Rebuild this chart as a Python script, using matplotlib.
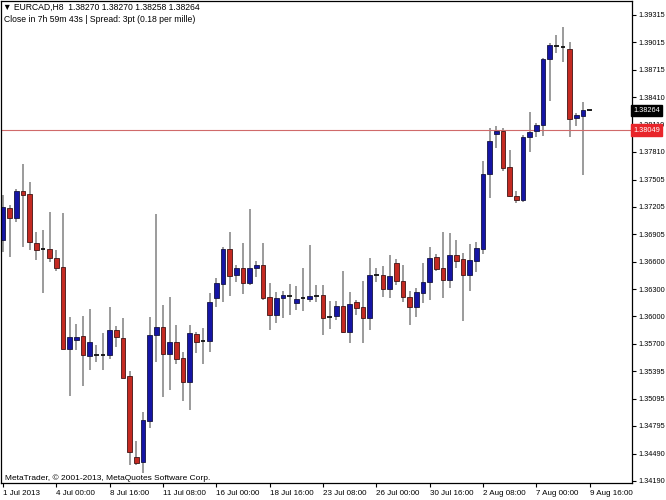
import matplotlib
matplotlib.use('Agg')
import matplotlib.pyplot as plt
import numpy as np

# EURCAD H8 candles
opens = [1.36840, 1.37189, 1.37085, 1.37376, 1.37346, 1.36810, 1.36740, 1.36741, 1.36645, 1.36546,
         1.35641, 1.35743, 1.35787, 1.35567, 1.35577, 1.35577, 1.35575, 1.35850, 1.35765, 1.35344,
         1.34450, 1.34395, 1.34852, 1.35795, 1.35880, 1.35586, 1.35721, 1.35539, 1.35281, 1.35806,
         1.35731, 1.35732, 1.36199, 1.36353, 1.36738, 1.36455, 1.36529, 1.36364, 1.36535, 1.36565,
         1.36210, 1.36018, 1.36199, 1.36226, 1.36150, 1.36201, 1.36188, 1.36226, 1.36235, 1.35995,
         1.36004, 1.36114, 1.35828, 1.36155, 1.36106, 1.35985, 1.36454, 1.36455, 1.36298, 1.36590,
         1.36389, 1.36217, 1.36100, 1.36260, 1.36375, 1.36650, 1.36529, 1.36400, 1.36675, 1.36628,
         1.36455, 1.36612, 1.36741, 1.37563, 1.38003, 1.38039, 1.37646, 1.37327, 1.37280, 1.37970,
         1.38039, 1.38105, 1.38828, 1.38980, 1.38962, 1.38941, 1.38179, 1.38204, 1.38270]
highs = [1.37335, 1.37225, 1.37401, 1.37676, 1.37481, 1.36931, 1.36950, 1.37151, 1.36730, 1.37134,
         1.35996, 1.35913, 1.36007, 1.36078, 1.35685, 1.35814, 1.36100, 1.35897, 1.35985, 1.35399,
         1.34632, 1.34945, 1.35990, 1.37126, 1.36125, 1.36210, 1.35905, 1.35611, 1.35905, 1.35831,
         1.35869, 1.36254, 1.36419, 1.36766, 1.36931, 1.36565, 1.36804, 1.37178, 1.36609, 1.36810,
         1.36364, 1.36271, 1.36279, 1.36356, 1.36334, 1.36535, 1.36785, 1.36345, 1.36345, 1.36172,
         1.36172, 1.36502, 1.36271, 1.36180, 1.36389, 1.36639, 1.36535, 1.36554, 1.36675, 1.36628,
         1.36565, 1.36279, 1.36309, 1.36584, 1.36766, 1.36683, 1.36931, 1.36914, 1.36840, 1.36694,
         1.36796, 1.36821, 1.37709, 1.38075, 1.38094, 1.38072, 1.37830, 1.37382, 1.37995, 1.38251,
         1.38124, 1.38840, 1.39007, 1.39095, 1.39183, 1.39021, 1.38234, 1.38361, 1.38270]
lows = [1.36711, 1.36653, 1.37041, 1.36766, 1.36730, 1.36620, 1.36254, 1.36595, 1.36502, 1.35638,
        1.35127, 1.35630, 1.35237, 1.35410, 1.35501, 1.35410, 1.35531, 1.35666, 1.35319, 1.34365,
        1.34365, 1.34280, 1.34769, 1.35501, 1.35116, 1.35190, 1.35476, 1.35072, 1.34970, 1.35594,
        1.35473, 1.35605, 1.36100, 1.36155, 1.36227, 1.36381, 1.36246, 1.36345, 1.36436, 1.36180,
        1.35850, 1.35924, 1.35979, 1.36015, 1.36070, 1.36062, 1.36161, 1.36161, 1.35795, 1.35858,
        1.35960, 1.35814, 1.35704, 1.36015, 1.35704, 1.35850, 1.36381, 1.36217, 1.36205, 1.36345,
        1.36161, 1.35905, 1.35990, 1.36144, 1.36180, 1.36499, 1.36199, 1.36309, 1.36529, 1.35949,
        1.36282, 1.36491, 1.36686, 1.37305, 1.37852, 1.37599, 1.37316, 1.37244, 1.37261, 1.37811,
        1.37976, 1.37984, 1.38372, 1.38900, 1.38795, 1.37976, 1.38097, 1.37555, 1.38258]
closes = [1.37200, 1.37079, 1.37382, 1.37338, 1.36815, 1.36730, 1.36736, 1.36639, 1.36529, 1.35641,
          1.35770, 1.35776, 1.35575, 1.35721, 1.35573, 1.35573, 1.35850, 1.35770, 1.35327, 1.34511,
          1.34390, 1.34860, 1.35795, 1.35886, 1.35586, 1.35721, 1.35531, 1.35281, 1.35814, 1.35715,
          1.35727, 1.36161, 1.36364, 1.36738, 1.36447, 1.36529, 1.36364, 1.36535, 1.36565, 1.36205,
          1.36018, 1.36199, 1.36235, 1.36222, 1.36188, 1.36197, 1.36224, 1.36222, 1.35985, 1.35991,
          1.36114, 1.35828, 1.36133, 1.36095, 1.35979, 1.36455, 1.36450, 1.36298, 1.36447, 1.36392,
          1.36210, 1.36106, 1.36265, 1.36381, 1.36639, 1.36521, 1.36400, 1.36675, 1.36612, 1.36455,
          1.36620, 1.36749, 1.37566, 1.37929, 1.38039, 1.37632, 1.37324, 1.37280, 1.37976, 1.38025,
          1.38105, 1.38831, 1.38985, 1.38975, 1.38958, 1.38168, 1.38212, 1.38270, 1.38264]

date_labels = ['1 Jul 2013', '4 Jul 00:00', '8 Jul 16:00', '11 Jul 08:00', '16 Jul 00:00',
               '18 Jul 16:00', '23 Jul 08:00', '26 Jul 00:00', '30 Jul 16:00', '2 Aug 08:00',
               '7 Aug 00:00', '9 Aug 16:00']
price_ticks = [1.39315, 1.39015, 1.38715, 1.38410, 1.38110, 1.37810, 1.37505, 1.37205, 1.36905,
               1.36600, 1.36300, 1.36000, 1.35700, 1.35395, 1.35095, 1.34795, 1.34490, 1.34190]
bid_price = 1.38264
level_price = 1.38049
header_1 = '\u25bc EURCAD,H8  1.38270 1.38270 1.38258 1.38264'
header_2 = 'Close in 7h 59m 43s | Spread: 3pt (0.18 per mille)'
copyright_text = 'MetaTrader, \u00a9 2001-2013, MetaQuotes Software Corp.'

plt.rcParams['font.family'] = ['Liberation Sans', 'DejaVu Sans']
fs = 5.8
yfs = 5.3

o = np.array(opens)
h = np.array(highs)
l = np.array(lows)
c = np.array(closes)
x = np.arange(len(o))

fig = plt.figure(figsize=(6.66, 5.0), dpi=100)
ax = fig.add_axes([1 / 666, 17 / 500, 631 / 666, 482 / 500])

# wicks
ax.vlines(x, l, h, color='#808080', linewidth=1.1, zorder=1)

# bodies
bull = c > o + 0.00008
bear = c < o - 0.00008
doji = ~(bull | bear)
w = 0.74
ax.bar(x[bull], c[bull] - o[bull], bottom=o[bull], width=w, color='#1515a5',
       edgecolor='#151540', linewidth=0.6, zorder=2)
ax.bar(x[bear], o[bear] - c[bear], bottom=c[bear], width=w, color='#c42a22',
       edgecolor='#401515', linewidth=0.6, zorder=2)
ax.hlines((o[doji] + c[doji]) / 2, x[doji] - w / 2, x[doji] + w / 2, color='#101010',
          linewidth=1.3, zorder=2)

ax.axhline(level_price, color='#d06a6a', linewidth=0.8, zorder=1.5)

ax.set_xlim(-0.3, -0.3 + 631 / 6.667)
ax.set_ylim(1.34167, 1.39469)

ax.yaxis.tick_right()
ax.set_yticks(price_ticks)
ax.set_yticklabels(['%.5f' % p for p in price_ticks])
ax.tick_params(axis='y', direction='out', length=3, width=0.8, pad=1.5, labelsize=yfs)

ax.set_xticks(x[::8])
ax.set_xticklabels(date_labels)
ax.tick_params(axis='x', direction='out', length=3, width=0.8, pad=2, labelsize=fs)
plt.setp(ax.get_xticklabels(), ha='left')

for s in ax.spines.values():
    s.set_color('black')
    s.set_linewidth(0.9)

# price boxes on the right scale
ytr = ax.get_yaxis_transform()
ax.text(1.0015, bid_price, '%.5f' % bid_price, transform=ytr, color='white', fontsize=yfs,
        va='center', ha='left', clip_on=False, zorder=5,
        bbox=dict(boxstyle='square,pad=0.3', facecolor='black', edgecolor='black'))
ax.text(1.0015, level_price, '%.5f' % level_price, transform=ytr, color='white', fontsize=yfs,
        va='center', ha='left', clip_on=False, zorder=5,
        bbox=dict(boxstyle='square,pad=0.3', facecolor='#e8252a', edgecolor='#e8252a'))

fig.text(3 / 666, 1 - 7 / 500, header_1, fontsize=6.2, va='center', ha='left')
fig.text(4 / 666, 1 - 19 / 500, header_2, fontsize=6.2, va='center', ha='left')
fig.text(5 / 666, 1 - 478 / 500, copyright_text, fontsize=6.0, va='center', ha='left')

fig.savefig('out.png', dpi=100, facecolor='white')
